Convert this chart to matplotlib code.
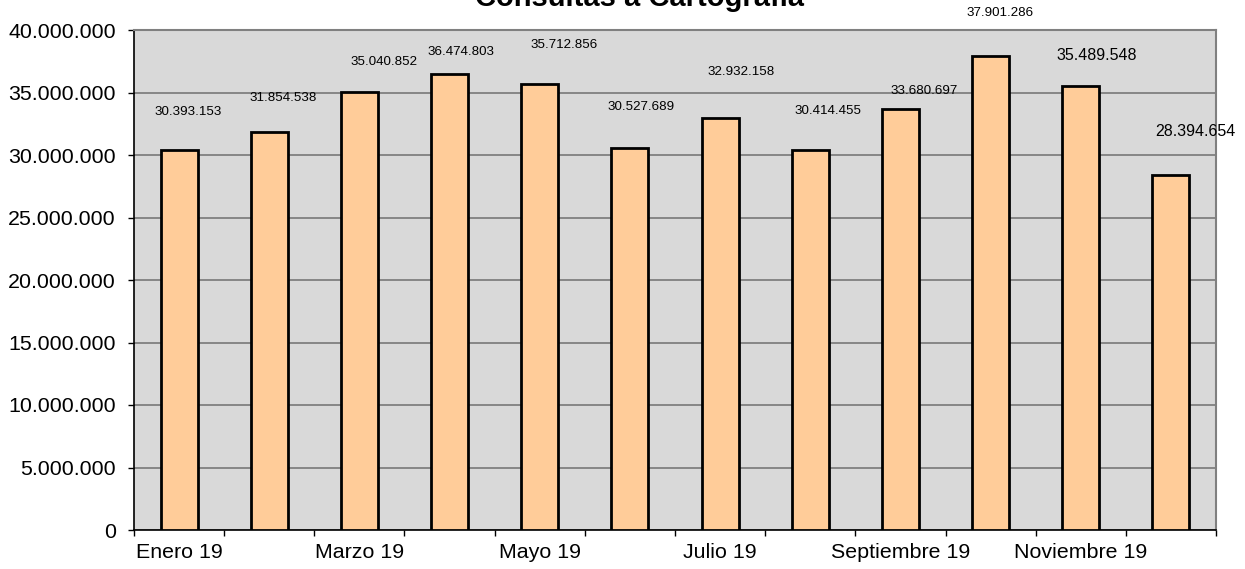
import matplotlib
matplotlib.use("Agg")
import matplotlib.pyplot as plt
from matplotlib.ticker import FuncFormatter, FixedLocator

plt.rcParams['font.family'] = ['Liberation Sans', 'DejaVu Sans']

# datos
meses = ["Enero 19", "Febrero 19", "Marzo 19", "Abril 19", "Mayo 19", "Junio 19",
         "Julio 19", "Agosto 19", "Septiembre 19", "Octubre 19", "Noviembre 19", "Diciembre 19"]
consultas = [30393153, 31854538, 35040852, 36474803, 35712856, 30527689,
             32932158, 30414455, 33680697, 37901286, 35489548, 28394654]

# posicion de las etiquetas (pixeles respecto a la parte alta de la barra)
label_dx = [9, 14, 25, 11, 24, 11, 21, 18, 24, 9, 16, 24]
label_dy = [38, 34, 30, 22, 39, 41, 46, 39, 18, 43, 31, 44]
label_fs = [9.6, 9.6, 9.6, 9.6, 9.6, 9.6, 9.6, 9.6, 9.6, 9.6, 11.5, 11.5]


def miles(v, pos):
    return f"{int(v):,}".replace(",", ".")


fig = plt.figure(figsize=(12.45, 5.69), dpi=100)
ax = fig.add_axes([134 / 1245, 39 / 569, 1082 / 1245, 500 / 569])
ax.set_facecolor("#D9D9D9")

x = list(range(len(meses)))
ax.bar(x, consultas, width=0.41, color="#FFCC99", edgecolor="black", linewidth=2.0, zorder=3)

ax.set_xlim(-0.5, len(meses) - 0.5)
ax.set_ylim(0, 40000000)
ax.set_yticks(range(0, 40000001, 5000000))
ax.yaxis.set_major_formatter(FuncFormatter(miles))
ax.grid(axis="y", color="#707070", linewidth=1.1, zorder=1)

# etiquetas cada dos meses, marcas entre categorias
ax.set_xticks(x[::2])
ax.set_xticklabels(meses[::2])
ax.xaxis.set_minor_locator(FixedLocator([i - 0.5 for i in range(len(meses) + 1)]))
ax.tick_params(axis="x", which="major", length=0, pad=9, labelsize=15.4)
ax.tick_params(axis="x", which="minor", length=4.5, width=1.0, color="black")
ax.tick_params(axis="y", length=4.5, width=1.0, pad=8.5, labelsize=15.4)

for s in ["top", "right"]:
    ax.spines[s].set_color("#808080")
    ax.spines[s].set_linewidth(1.5)
ax.spines["left"].set_color("black")
ax.spines["bottom"].set_color("black")
ax.spines["left"].set_linewidth(1.2)
ax.spines["bottom"].set_linewidth(1.2)

for i, v in enumerate(consultas):
    ax.annotate(miles(v, None), xy=(i, v), xytext=(label_dx[i], label_dy[i]),
                textcoords="offset pixels", ha="center", va="center",
                fontsize=label_fs[i], color="black", zorder=4, annotation_clip=False)

# el titulo queda cortado arriba, como en el original
fig.text(640 / 1245, 563 / 569, "Consultas a Cartografía", ha="center", va="baseline",
         fontsize=21, fontweight="bold")

fig.savefig("out.png", dpi=100)
